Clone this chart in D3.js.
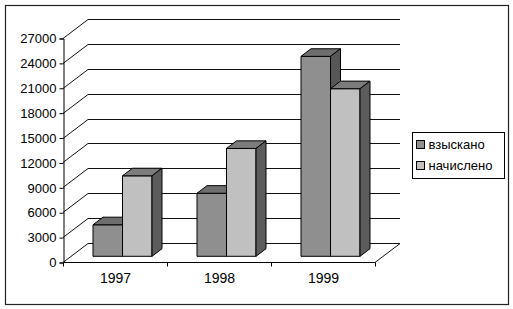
<!DOCTYPE html>
<html>
<head>
<meta charset="utf-8">
<script src="https://cdn.jsdelivr.net/npm/d3@7"></script>
<style>
  body { margin: 0; background: #fff; }
  text { font-family: "Liberation Sans", Arial, sans-serif; fill: #000; }
</style>
</head>
<body>
<svg id="chart" width="513" height="309"></svg>
<script>
const width = 513;
const height = 309;

// data
const years = ["1997", "1998", "1999"];
const seriesNames = ["взыскано", "начислено"];
const collected = [3800, 7600, 24100];
const charged = [9700, 13000, 20200];
const yTicks = [0, 3000, 6000, 9000, 12000, 15000, 18000, 21000, 24000, 27000];

const frontColors = ["#8f8f8f", "#c0c0c0"];
const topColors = ["#6e6e6e", "#7c7c7c"];
const sideColors = ["#575757", "#5c5c5c"];

const svg = d3.select("#chart");

// outer frame
svg.append("rect")
    .attr("x", 5.5).attr("y", 5.5)
    .attr("width", 503).attr("height", 299)
    .attr("fill", "none")
    .attr("stroke", "#222")
    .attr("stroke-width", 1.2);

// front plane of the plot
const x0 = 63, x1 = 375;
const depth = [25, -19]; // offset to the back wall

const x = d3.scaleBand()
    .domain(years)
    .range([x0, x1]);

const y = d3.scaleLinear()
    .domain([0, 27000])
    .range([262, 38]);

// gridlines: diagonal on the left wall, then along the back wall
const grid = svg.append("g")
    .attr("stroke", "#111")
    .attr("stroke-width", 1)
    .attr("fill", "none");

yTicks.forEach(t => {
    const yy = Math.round(y(t)) + 0.5;
    grid.append("path")
        .attr("d", `M${x0},${yy} L${x0 + depth[0]},${yy + depth[1]} L${x1 + depth[0]},${yy + depth[1]}`);
});
// floor right edge
grid.append("path")
    .attr("d", `M${x1},${Math.round(y(0)) + 0.5} L${x1 + depth[0]},${Math.round(y(0)) + 0.5 + depth[1]}`);

// y axis
const yAxis = d3.axisLeft(y)
    .tickValues(yTicks)
    .tickSize(4)
    .tickPadding(3)
    .tickFormat(d3.format("d"));

const yg = svg.append("g")
    .attr("transform", `translate(${x0 + 0.5},0.5)`)
    .call(yAxis);
yg.select(".domain").attr("stroke", "#000");
yg.selectAll("line").attr("stroke", "#000");
yg.selectAll("text")
    .style("font-size", "13px")
    .attr("fill", "#000");

// x axis
const xAxis = d3.axisBottom(x)
    .tickSize(0)
    .tickPadding(11);
const xg = svg.append("g")
    .attr("transform", `translate(0.5,${Math.round(y(0)) + 0.5})`)
    .call(xAxis);
xg.select(".domain").attr("stroke", "#000").attr("d", `M${x0},0H${x1}`);
xg.selectAll("text").style("font-size", "14px").attr("fill", "#000");
// category separators
xg.selectAll(".sep")
    .data(years.concat(["end"]))
    .enter()
    .append("line")
    .attr("x1", (d, i) => x0 + i * x.bandwidth())
    .attr("x2", (d, i) => x0 + i * x.bandwidth())
    .attr("y1", 0).attr("y2", 4)
    .attr("stroke", "#000");

// 3D bars
const barFront = 0.3;   // fraction of depth where bar front sits
const barDepth = 0.4;   // fraction of depth the bar occupies
const barW = 29.5;
const groupOffset = (x.bandwidth() - 2 * barW) / 2;

const bars = svg.append("g")
    .attr("stroke", "#000")
    .attr("stroke-width", 1)
    .attr("stroke-linejoin", "round");

years.forEach((yr, i) => {
    [collected[i], charged[i]].forEach((v, s) => {
        const ox = depth[0] * barFront, oy = depth[1] * barFront;
        const dx = depth[0] * barDepth, dy = depth[1] * barDepth;
        const left = x(yr) + groupOffset + s * barW + ox;
        const right = left + barW;
        const bottom = y(0) + oy;
        const top = y(v) + oy;

        bars.append("rect")
            .attr("x", left).attr("y", top)
            .attr("width", barW).attr("height", bottom - top)
            .attr("fill", frontColors[s]);
        bars.append("path")
            .attr("d", `M${left},${top} L${left + dx},${top + dy} L${right + dx},${top + dy} L${right},${top} Z`)
            .attr("fill", topColors[s]);
        bars.append("path")
            .attr("d", `M${right},${top} L${right + dx},${top + dy} L${right + dx},${bottom + dy} L${right},${bottom} Z`)
            .attr("fill", sideColors[s]);
    });
});

// legend
const legend = svg.append("g").attr("transform", "translate(412.5,132.5)");
legend.append("rect")
    .attr("width", 92).attr("height", 46)
    .attr("fill", "#fff")
    .attr("stroke", "#000");
seriesNames.forEach((name, i) => {
    const row = legend.append("g").attr("transform", `translate(4,${8 + i * 21})`);
    row.append("rect")
        .attr("width", 8).attr("height", 8)
        .attr("fill", frontColors[i])
        .attr("stroke", "#000");
    row.append("text")
        .attr("x", 12).attr("y", 4)
        .attr("dy", "0.35em")
        .style("font-size", "13px")
        .text(name);
});
</script>
</body>
</html>
